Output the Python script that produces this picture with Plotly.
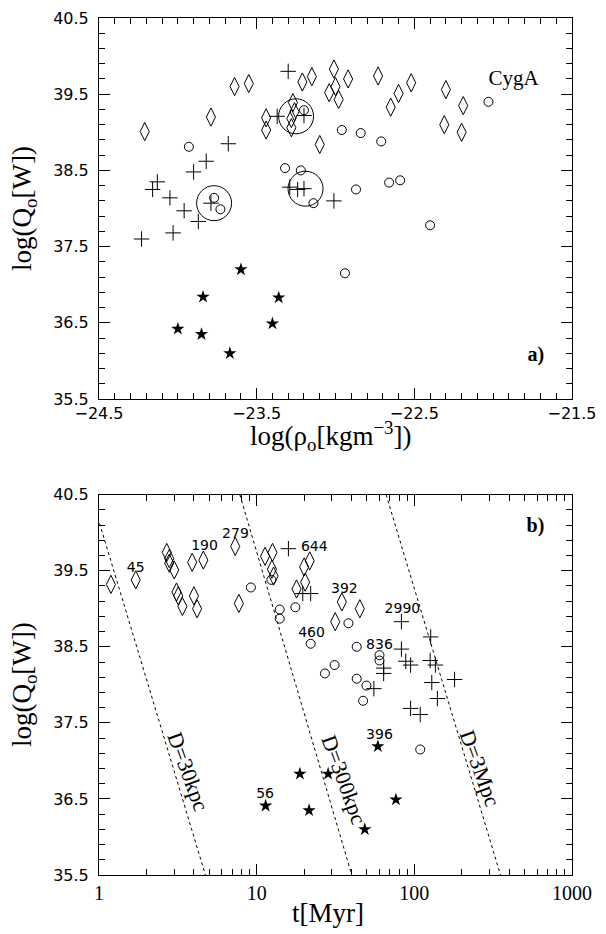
import numpy as np
import plotly.graph_objects as go

# ---------------- Panel a) data: log(rho_o) vs log(Q_o) ----------------
diam_rho = [-24.21, -23.64, -23.55, -23.79, -23.44, -23.44, -23.27, -23.26, -23.28, -23.28,
            -23.21, -23.15, -23.10, -23.01, -23.00, -23.04, -22.98, -22.92, -22.73, -22.60,
            -22.52, -22.65, -22.30, -22.19, -22.31, -22.20]
diam_q = [39.01, 39.60, 39.64, 39.20, 39.19, 39.03, 39.39, 39.27, 39.18, 39.06,
          39.66, 39.73, 38.84, 39.83, 39.60, 39.52, 39.43, 39.70, 39.74, 39.51,
          39.65, 39.33, 39.56, 39.35, 39.10, 39.00]

circ_rho = [-23.93, -23.77, -23.73, -23.20, -23.32, -23.22, -23.14, -22.96, -22.84, -22.71,
            -22.87, -22.66, -22.59, -22.03, -22.40, -22.94]
circ_q = [38.81, 38.14, 37.99, 39.29, 38.53, 38.50, 38.07, 39.03, 38.99, 38.88,
          38.25, 38.34, 38.37, 39.40, 37.78, 37.15]

big_rho = [-23.77, -23.25, -23.19]
big_q = [38.07, 39.21, 38.26]

cross_rho = [-23.30, -23.37, -23.20, -23.68, -23.82, -23.90, -24.13, -24.16, -24.05, -23.96,
             -23.79, -23.29, -23.24, -23.20, -23.01, -23.87, -24.03, -24.23]
cross_q = [39.80, 39.21, 39.22, 38.85, 38.62, 38.48, 38.35, 38.25, 38.14, 37.97,
           38.07, 38.28, 38.25, 38.26, 38.10, 37.83, 37.68, 37.60]

star_rho = [-23.60, -23.84, -23.36, -24.00, -23.85, -23.40, -23.67]
star_q = [37.20, 36.84, 36.83, 36.42, 36.35, 36.49, 36.10]

cyga_rho, cyga_q = -21.87, 39.69

# ---------------- Panel b) data: t[Myr] vs log(Q_o) ----------------
diam_t = [1.19, 1.71, 2.69, 2.79, 2.79, 3.00, 3.10, 3.18, 3.38, 3.90, 4.59, 4.00, 4.19,
          7.31, 7.71, 11.3, 12.6, 12.5, 12.8, 17.9, 20.0, 21.7, 20.3, 34.7, 45.1, 31.5]
diam_q2 = [39.32, 39.38, 39.74, 39.66, 39.60, 39.51, 39.22, 39.17, 39.03, 39.61, 39.64, 39.17, 39.00,
           39.82, 39.07, 39.69, 39.74, 39.52, 39.43, 39.26, 39.55, 39.63, 39.35, 39.09, 39.00, 38.83]

circ_t = [9.19, 12.4, 14.0, 14.0, 17.6, 22.0, 27.1, 38.2, 43.1, 60.1, 60.1, 31.2, 43.1, 49.7, 47.3, 109]
circ_q2 = [39.28, 39.38, 38.99, 38.87, 39.02, 38.54, 38.15, 38.81, 38.50, 38.39, 38.32, 38.26, 38.08,
           37.99, 37.79, 37.15]

cross_t = [15.9, 19.6, 22.0, 82.8, 127, 82.8, 88.2, 94.7, 126, 136, 63.9, 63.9, 180, 55.4, 129, 140, 94.7, 109]
cross_q2 = [39.79, 39.20, 39.20, 38.83, 38.63, 38.47, 38.31, 38.26, 38.32, 38.26, 38.22, 38.15, 38.07,
            37.95, 38.03, 37.82, 37.69, 37.61]

star_t = [11.4, 18.8, 21.5, 28.4, 58.7, 76.4, 48.5]
star_q2 = [36.41, 36.83, 36.35, 36.83, 37.19, 36.49, 36.10]

lbl_text = ["45", "190", "279", "644", "460", "392", "2990", "836", "396", "56"]
lbl_t = [1.71, 4.67, 7.34, 23.2, 22.3, 36.0, 84.0, 60.1, 60.1, 11.3]
lbl_q = [39.53, 39.82, 39.98, 39.81, 38.67, 39.25, 38.99, 38.52, 37.34, 36.56]

# constant-size lines
D_names = ["D=30kpc", "D=300kpc", "D=3Mpc"]
D_t_top = [0.889, 7.82, 66.2]
D_t_bot = [4.73, 40.1, 352]
D_q_top = 40.5
D_q_bot = 35.5
D_lbl_t = [3.67, 35.9, 261]
D_lbl_q = [36.86, 36.76, 36.90]

# ---------------- figure ----------------
BLK = "black"
SERIF = "Liberation Serif"
SANS = "DejaVu Sans"

fig = go.Figure()

def markers(x, y, symbol, size, xa, ya, filled=False, lw=1):
    fig.add_trace(go.Scatter(
        x=x, y=y, mode="markers", xaxis=xa, yaxis=ya, showlegend=False,
        marker=dict(symbol=symbol, size=size, color=BLK,
                    line=dict(color=BLK, width=lw if not filled else 0))))

# panel a
markers(diam_rho, diam_q, "diamond-tall-open", 13, "x", "y")
markers(circ_rho, circ_q, "circle-open", 9, "x", "y")
markers(big_rho, big_q, "circle-open", 35, "x", "y")
markers(cross_rho, cross_q, "cross-thin-open", 11, "x", "y")
markers(star_rho, star_q, "star", 10, "x", "y", filled=True)
fig.add_trace(go.Scatter(x=[cyga_rho], y=[cyga_q], mode="text", text=["CygA"],
                         textfont=dict(family=SERIF, size=21, color=BLK),
                         xaxis="x", yaxis="y", showlegend=False))
fig.add_trace(go.Scatter(x=[-21.73], y=[36.06], mode="text", text=["<b>a)</b>"],
                         textfont=dict(family=SERIF, size=20, color=BLK),
                         xaxis="x", yaxis="y", showlegend=False))

# panel b: lines
for i in range(len(D_names)):
    fig.add_trace(go.Scatter(x=[D_t_top[i], D_t_bot[i]], y=[D_q_top, D_q_bot], mode="lines",
                             line=dict(color=BLK, width=1, dash="dot"),
                             xaxis="x2", yaxis="y2", showlegend=False))
markers(diam_t, diam_q2, "diamond-tall-open", 13, "x2", "y2")
markers(circ_t, circ_q2, "circle-open", 9, "x2", "y2")
markers(cross_t, cross_q2, "cross-thin-open", 11, "x2", "y2")
markers(star_t, star_q2, "star", 10, "x2", "y2", filled=True)
fig.add_trace(go.Scatter(x=lbl_t, y=lbl_q, mode="text", text=lbl_text,
                         textfont=dict(family=SANS, size=14, color=BLK),
                         xaxis="x2", yaxis="y2", showlegend=False))
fig.add_trace(go.Scatter(x=[587], y=[40.08], mode="text", text=["<b>b)</b>"],
                         textfont=dict(family=SERIF, size=20, color=BLK),
                         xaxis="x2", yaxis="y2", showlegend=False))

for i in range(len(D_names)):
    fig.add_annotation(x=np.log10(D_lbl_t[i]), y=D_lbl_q[i], xref="x2", yref="y2",
                       text=D_names[i], showarrow=False, textangle=70,
                       font=dict(family=SERIF, size=22, color=BLK))

# axis titles
for yc in (0.7774, 0.2219):
    fig.add_annotation(x=-0.158, y=yc, xref="paper", yref="paper", text="log(Q<sub>o</sub>[W])",
                       showarrow=False, textangle=-90, xanchor="center", yanchor="middle",
                       font=dict(family=SERIF, size=27, color=BLK))
fig.add_annotation(x=0.49, y=0.512, xref="paper", yref="paper",
                   text="log(ρ<sub>o</sub>[kgm<sup>−3</sup>])", xanchor="center", yanchor="middle",
                   showarrow=False, font=dict(family=SERIF, size=27, color=BLK))
fig.add_annotation(x=0.485, y=-0.044, xref="paper", yref="paper", text="t[Myr]",
                   xanchor="center", yanchor="middle",
                   showarrow=False, font=dict(family=SERIF, size=27, color=BLK))

common = dict(showline=True, linecolor=BLK, linewidth=1, mirror="ticks", ticks="inside",
              tickcolor=BLK, tickwidth=1.3, showgrid=False, zeroline=False)

yax = dict(range=[35.5, 40.5], tickmode="linear", tick0=35.5, dtick=1, ticklen=11, tickformat=".1f",
           tickfont=dict(family=SANS, size=16, color=BLK), ticklabelstandoff=6,
           minor=dict(ticks="inside", tickmode="linear", tick0=35.5, dtick=0.2, ticklen=6,
                      tickcolor=BLK, tickwidth=1.3, showgrid=False),
           **common)

minor_log = [k * 10 ** d for d in range(0, 3) for k in range(2, 10)]

fig.update_layout(
    width=606, height=934,
    margin=dict(l=99, r=25, t=9, b=59),
    paper_bgcolor="white", plot_bgcolor="white",
    xaxis=dict(domain=[0, 1], anchor="y", range=[-24.5, -21.5], tickmode="linear", tick0=-24.5, dtick=1,
               ticklen=11, tickformat=".1f", tickfont=dict(family=SANS, size=16, color=BLK),
               minor=dict(ticks="inside", tickmode="linear", tick0=-24.5, dtick=0.1, ticklen=6,
                          tickcolor=BLK, tickwidth=1.3, showgrid=False),
               **common),
    yaxis=dict(domain=[0.5554, 1], anchor="x", **yax),
    xaxis2=dict(domain=[0, 1], anchor="y2", type="log", range=[0, 3],
                tickmode="array", tickvals=[1, 10, 100, 1000], ticktext=["1", "10", "100", "1000"],
                ticklen=11, tickfont=dict(family=SERIF, size=20, color=BLK),
                minor=dict(ticks="inside", tickmode="array", tickvals=minor_log, ticklen=6,
                           tickcolor=BLK, tickwidth=1.3, showgrid=False),
                **common),
    yaxis2=dict(domain=[0, 0.4438], anchor="x2", **yax),
)

fig.write_html("out.html")
